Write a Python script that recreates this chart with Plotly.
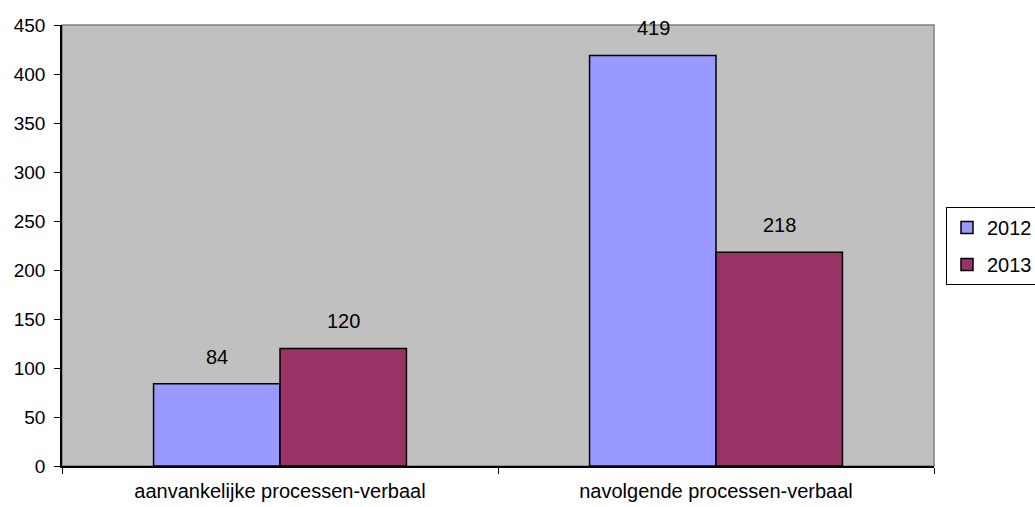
import plotly.graph_objects as go

categories = ["aanvankelijke processen-verbaal", "navolgende processen-verbaal"]
series_names = ["2012", "2013"]
values_2012 = [84, 419]
values_2013 = [120, 218]
colors = ["#9999FF", "#993366"]
y_ticks = [0, 50, 100, 150, 200, 250, 300, 350, 400, 450]

FONT = "Liberation Sans, Arial, sans-serif"

fig = go.Figure()
for name, vals, col in zip(series_names, [values_2012, values_2013], colors):
    fig.add_trace(go.Bar(
        x=categories, y=vals, name=name, legendgroup=name,
        marker=dict(color=col, line=dict(color="black", width=1.5)),
    ))

annotations = []
for i, vals in enumerate([values_2012, values_2013]):
    shift = -63 if i == 0 else 63
    for c, v in zip(categories, vals):
        annotations.append(dict(
            x=c, y=v, xref="x", yref="y", text=str(v), showarrow=False,
            xshift=shift, yshift=14, yanchor="bottom",
            font=dict(family=FONT, size=20, color="black"),
        ))

fig.update_layout(
    width=1035, height=507,
    margin=dict(l=62, r=101, t=25, b=41),
    paper_bgcolor="white", plot_bgcolor="#C0C0C0",
    barmode="group", bargap=0.42, bargroupgap=0,
    font=dict(family=FONT, size=20, color="black"),
    showlegend=True,
    legend=dict(xref="container", yref="container", x=946 / 1035, y=1 - 207 / 507,
                xanchor="left", yanchor="top",
                bordercolor="black", borderwidth=1, bgcolor="white",
                font=dict(family=FONT, size=20), tracegroupgap=8,
                itemwidth=30),
    annotations=annotations,
    shapes=[dict(type="rect", xref="paper", yref="paper", x0=0, y0=0, x1=1, y1=1,
                 line=dict(color="#808080", width=1.5), layer="below")],
)
fig.update_xaxes(showline=True, linecolor="black", linewidth=1.5, ticks="outside",
                 tickson="boundaries", ticklen=6, tickcolor="black", showgrid=False,
                 tickfont=dict(family=FONT, size=20), ticklabelstandoff=6,
                 automargin=False)
fig.update_yaxes(range=[0, 450], tickvals=y_ticks, showline=True, linecolor="black",
                 linewidth=1.5, ticks="outside", ticklen=6, tickcolor="black",
                 showgrid=False, zeroline=False, tickfont=dict(family=FONT, size=19),
                 ticklabelstandoff=5, automargin=False)

fig.write_html("out.html", config={"displayModeBar": False},
               post_script="document.body.style.margin='0px';")
